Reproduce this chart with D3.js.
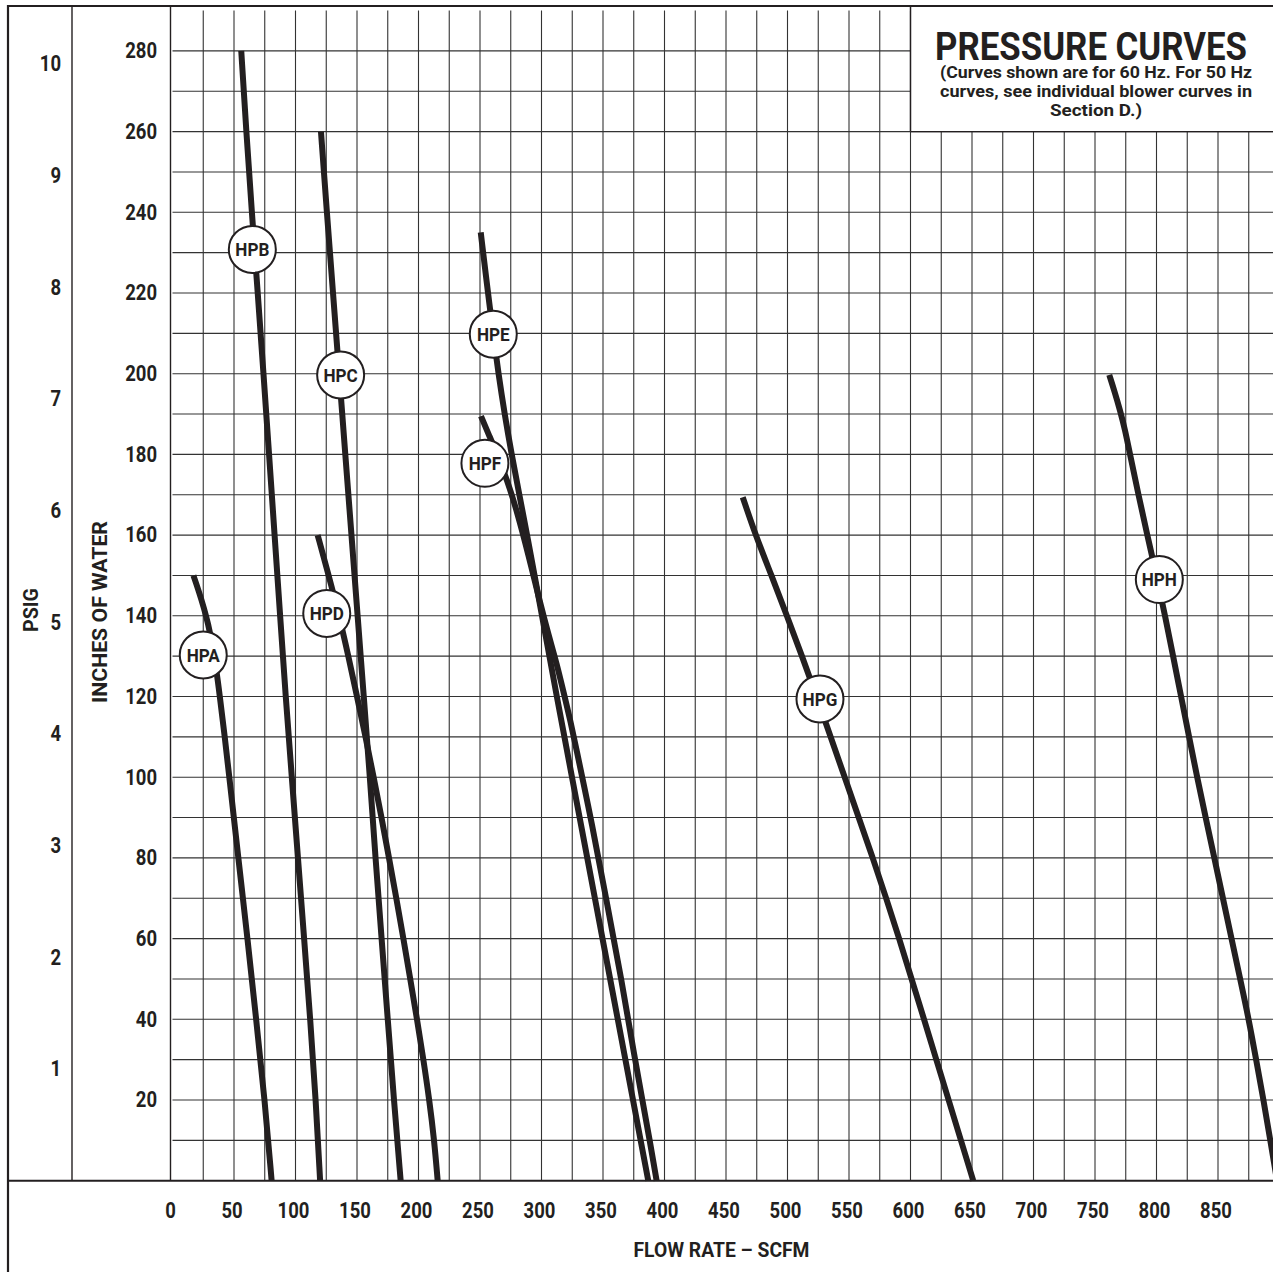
<!DOCTYPE html>
<html>
<head>
<meta charset="utf-8">
<script src="https://cdn.jsdelivr.net/npm/d3@7"></script>
<style>
  html, body { margin: 0; padding: 0; background: #fff; }
  svg { display: block; }
  text { font-family: Roboto, "Liberation Sans", sans-serif; font-weight: bold; fill: #231f20; }
</style>
</head>
<body>
<svg id="chart" width="1273" height="1272"></svg>
<script>
// ---------- data ----------
const FLOW_TICKS = [0, 50, 100, 150, 200, 250, 300, 350, 400, 450, 500, 550, 600, 650, 700, 750, 800, 850];
const INCH_TICKS = [20, 40, 60, 80, 100, 120, 140, 160, 180, 200, 220, 240, 260, 280];
const PSIG_TICKS = [1, 2, 3, 4, 5, 6, 7, 8, 9, 10];
const INCHES_PER_PSI = 27.68;

// [flow SCFM, inches of water]
const HPA = [[17,150],[21.5,146],[25.5,142],[29,138],[32.3,133],[35.5,127],[38.5,120],[42.5,110],[46.2,100],[53.5,80],[61,60],[68,40],[75,20],[80.6,0]];
const HPB = [[55.9,280],[60,260],[64.5,240],[69.3,220],[74,200],[78.5,180],[83,160],[87.5,140],[92,120],[97,100],[102,80],[107,60],[112,40],[116.5,20],[120,0]];
const HPC = [[120.7,260],[125.5,240],[130.5,220],[135.5,200],[140.5,180],[145.5,160],[150.5,140],[155.5,120],[160.5,100],[165,80],[170,60],[175,40],[180,20],[185.5,0]];
const HPD = [[118,160],[127,150],[135.5,140],[143,130],[150,120],[157,110],[163.5,100],[170,90],[176,80],[182,70],[187.7,60],[193.3,50],[198.8,40],[204,30],[208.8,20],[212.8,10],[215.6,0]];
const HPE = [[250.6,235],[256.5,220],[260.6,210],[265,200],[270,190],[275.7,180],[282,170],[288.3,160],[294.4,150],[300.4,140],[312.4,120],[324.8,100],[337.2,80],[349.6,60],[362,40],[374.4,20],[386.8,0]];
const HPF = [[250.8,189.5],[257,185],[264,180],[272,173.7],[280,166],[289.5,155],[299,143],[306,135],[312.5,128],[318,121],[323.5,114],[329,106],[334.5,98],[340,90],[352.5,70],[365,50],[376,30],[382,20],[388,10],[393.6,0]];
const HPG = [[463.6,169.4],[474,160],[487,150],[499.5,140],[511.8,130],[523.7,120],[535,110],[546.5,100],[569.5,80],[591,60],[611,40],[631,20],[651,0]];
const HPH = [[761.6,199.7],[766,195.5],[770.3,191],[774.5,186],[778.5,180],[785.3,170],[792.5,160],[800,150],[807,140],[813.5,130],[820,120],[826.5,110],[833,100],[840,90],[847,80],[854,70],[861,60],[868,50],[875,40],[881,30],[887,20],[892.5,10],[898,0]];

const SERIES_NAMES = ["HPA", "HPB", "HPC", "HPD", "HPE", "HPF", "HPG", "HPH"];
const SERIES_DATA = [HPA, HPB, HPC, HPD, HPE, HPF, HPG, HPH];
const LABEL_FLOW   = [25, 64.9, 136.7, 125.4, 260.8, 254, 526.4, 802.3];
const LABEL_INCHES = [130.3, 230.8, 199.7, 140.6, 209.8, 177.8, 119.4, 149];

const TITLE = "PRESSURE CURVES";
const SUBTITLE = ["(Curves shown are for 60 Hz. For 50 Hz", "curves, see individual blower curves in", "Section D.)"];
const X_TITLE = "FLOW RATE \u2013 SCFM";
const Y_TITLE = "INCHES OF WATER";
const PSI_TITLE = "PSIG";

// ---------- layout ----------
const W = 1273, H = 1272;
const INK = "#231f20";
const svg = d3.select("#chart");

const x = d3.scaleLinear().domain([0, 900]).range([172.5, 172.5 + 900 * 1.23]);
const y = d3.scaleLinear().domain([0, 290]).range([1180.7, 1180.7 - 290 * 4.035]);
const yPsi = d3.scaleLinear().domain([0, 290 / INCHES_PER_PSI]).range(y.range());

const frameLeft = 8, frameTop = 6;

// condense text horizontally (the original uses a condensed face)
function condense(sel, factor) {
  sel.each(function () {
    const w = this.getComputedTextLength();
    d3.select(this).attr("textLength", w * factor).attr("lengthAdjust", "spacingAndGlyphs");
  });
}

// grid
const grid = svg.append("g").attr("stroke", "#333").attr("stroke-width", 1.1);
grid.selectAll("line.v").data(d3.range(25, 900, 25)).join("line")
  .attr("x1", d => x(d)).attr("x2", d => x(d))
  .attr("y1", y(290)).attr("y2", y(0));
grid.selectAll("line.h").data(d3.range(10, 290, 10)).join("line")
  .attr("x1", x(0)).attr("x2", W)
  .attr("y1", d => y(d)).attr("y2", d => y(d));

// title box
svg.append("rect").attr("x", x(600)).attr("y", frameTop)
  .attr("width", W - x(600)).attr("height", y(260) - frameTop)
  .attr("fill", "#fff");
svg.append("line").attr("x1", x(600)).attr("x2", x(600)).attr("y1", frameTop).attr("y2", y(260))
  .attr("stroke", INK).attr("stroke-width", 1.5);
svg.append("line").attr("x1", x(600)).attr("x2", W).attr("y1", y(260)).attr("y2", y(260))
  .attr("stroke", INK).attr("stroke-width", 1.2);

// frame lines
const frame = svg.append("g").attr("stroke", INK).attr("fill", "none");
frame.append("line").attr("x1", frameLeft).attr("x2", frameLeft).attr("y1", frameTop - 1).attr("y2", H).attr("stroke-width", 2.2);
frame.append("line").attr("x1", frameLeft).attr("x2", W).attr("y1", frameTop).attr("y2", frameTop).attr("stroke-width", 2.2);
frame.append("line").attr("x1", 72).attr("x2", 72).attr("y1", frameTop).attr("y2", y(0)).attr("stroke-width", 1.4);
frame.append("line").attr("x1", x(0) - 2).attr("x2", x(0) - 2).attr("y1", frameTop).attr("y2", y(0)).attr("stroke-width", 1.4);
frame.append("line").attr("x1", frameLeft).attr("x2", W).attr("y1", y(0)).attr("y2", y(0)).attr("stroke-width", 2);

// curves
const line = d3.line().x(d => x(d[0])).y(d => y(d[1])).curve(d3.curveBasis);
svg.append("g").selectAll("path").data(SERIES_DATA).join("path")
  .attr("d", line)
  .attr("fill", "none").attr("stroke", INK).attr("stroke-width", 6)
  .attr("stroke-linecap", "butt").attr("stroke-linejoin", "round");

// curve labels
const lab = svg.append("g").selectAll("g").data(SERIES_NAMES).join("g")
  .attr("transform", (d, i) => `translate(${x(LABEL_FLOW[i])},${y(LABEL_INCHES[i])})`);
lab.append("circle").attr("r", 23.5).attr("fill", "#fff").attr("stroke", INK).attr("stroke-width", 2);
lab.append("text").text(d => d).attr("text-anchor", "middle").attr("dy", "0.36em")
  .attr("font-size", 19).call(condense, 0.9);

// x axis
const xAxis = svg.append("g").attr("transform", `translate(-2.5,${y(0)})`)
  .call(d3.axisBottom(x).tickValues(FLOW_TICKS).tickSize(0).tickPadding(22).tickFormat(d3.format("d")));
xAxis.select(".domain").remove();
xAxis.selectAll("text").attr("font-size", 22).attr("font-family", null).attr("fill", INK).call(condense, 0.84);

// inches axis
const yAxis = svg.append("g").attr("transform", `translate(157,0)`)
  .call(d3.axisLeft(y).tickValues(INCH_TICKS).tickSize(0).tickPadding(0));
yAxis.select(".domain").remove();
yAxis.selectAll("text").attr("font-size", 21.5).attr("font-family", null).attr("fill", INK).call(condense, 0.86);

// psig axis
const pAxis = svg.append("g").attr("transform", `translate(61,0)`)
  .call(d3.axisLeft(yPsi).tickValues(PSIG_TICKS).tickSize(0).tickPadding(0));
pAxis.select(".domain").remove();
pAxis.selectAll("text").attr("font-size", 21.5).attr("font-family", null).attr("fill", INK).call(condense, 0.86);

// axis titles
svg.append("text").text(X_TITLE).attr("x", 721.5).attr("y", 1257).attr("text-anchor", "middle")
  .attr("font-size", 21).attr("textLength", 176).attr("lengthAdjust", "spacingAndGlyphs");
svg.append("text").text(Y_TITLE).attr("transform", "translate(107,612) rotate(-90)").attr("text-anchor", "middle")
  .attr("font-size", 21).attr("textLength", 182).attr("lengthAdjust", "spacingAndGlyphs");
svg.append("text").text(PSI_TITLE).attr("transform", "translate(38,610) rotate(-90)").attr("text-anchor", "middle")
  .attr("font-size", 21).attr("textLength", 44).attr("lengthAdjust", "spacingAndGlyphs");

// title block
svg.append("text").text(TITLE).attr("text-anchor", "middle")
  .attr("font-size", 39).call(function (sel) {
    const w = sel.node().getComputedTextLength();
    sel.attr("transform", `translate(1091,59.5) scale(${312 / w},1)`);
  });
const subY = [77.5, 97, 116], subW = [312, 312, 92];
const sub = svg.append("text").attr("text-anchor", "middle").attr("font-size", 16.5);
SUBTITLE.forEach((s, i) => {
  sub.append("tspan").text(s).attr("x", 1096).attr("y", subY[i])
    .attr("textLength", subW[i]).attr("lengthAdjust", "spacingAndGlyphs");
});
</script>
</body>
</html>
